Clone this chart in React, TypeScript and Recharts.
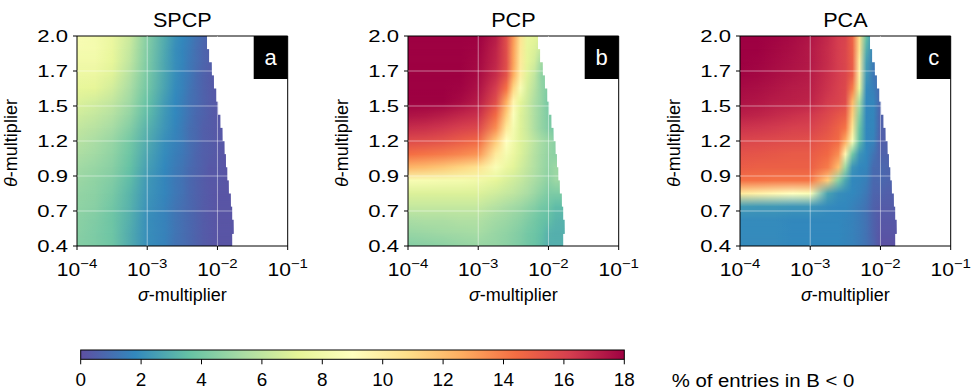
import React from 'react';
import { ComposedChart, XAxis, YAxis, ReferenceArea, ReferenceLine } from 'recharts';

const FONT = '"Liberation Sans", Arial, Helvetica, sans-serif';

// sigma-multiplier sample columns (log-spaced)
const SIGMA_COLS = [1e-4, 1.778e-4, 3.162e-4, 5.623e-4, 1e-3, 1.778e-3, 2.512e-3, 3.162e-3, 3.981e-3, 5.012e-3, 6.31e-3, 7.943e-3, 1e-2, 1.259e-2, 1.585e-2];
// theta-multiplier sample rows, top to bottom
const THETA_ROWS = [2.0, 1.9, 1.8, 1.7, 1.6, 1.5, 1.4, 1.3, 1.2, 1.1, 1.0, 0.9, 0.8, 0.7, 0.6, 0.5, 0.4];
// largest sigma evaluated inside each band between consecutive rows
const SIGMA_END = [0.0071, 0.0076, 0.0083, 0.0089, 0.0096, 0.0102, 0.011, 0.0118, 0.0126, 0.0132, 0.0138, 0.0145, 0.0155, 0.0162, 0.017, 0.0162];

// % of entries in B < 0, one row per theta value
const SPCP = [
  [8.5, 8.2, 7.6, 6.4, 4.4, 2.9, 2.1, 1.8, 1.5, 1.1, 0.8, 0.6],
  [8.3, 8.2, 7.5, 6.2, 4.3, 2.8, 2.0, 1.7, 1.4, 1.0, 0.7, 0.5],
  [8.0, 8.0, 7.3, 6.0, 4.2, 2.7, 2.0, 1.7, 1.3, 1.0, 0.7, 0.5, 0.4],
  [7.7, 7.6, 7.0, 5.7, 4.1, 2.7, 2.0, 1.6, 1.3, 0.9, 0.6, 0.4, 0.3],
  [7.3, 7.2, 6.6, 5.4, 3.9, 2.6, 1.9, 1.6, 1.2, 0.9, 0.6, 0.4, 0.3],
  [6.9, 6.6, 6.1, 5.1, 3.6, 2.4, 1.8, 1.5, 1.1, 0.9, 0.6, 0.4, 0.3, 0.3],
  [6.5, 6.2, 5.7, 4.8, 3.4, 2.3, 1.8, 1.5, 1.1, 0.8, 0.6, 0.4, 0.3, 0.3],
  [6.1, 5.8, 5.3, 4.4, 3.1, 2.2, 1.7, 1.4, 1.0, 0.8, 0.5, 0.4, 0.3, 0.3],
  [5.8, 5.4, 4.9, 4.0, 2.9, 2.0, 1.6, 1.4, 1.0, 0.8, 0.5, 0.4, 0.3, 0.3],
  [5.5, 5.2, 4.7, 3.8, 2.7, 1.9, 1.5, 1.3, 1.0, 0.7, 0.5, 0.4, 0.3, 0.2, 0.2],
  [5.2, 4.9, 4.5, 3.6, 2.5, 1.8, 1.4, 1.2, 0.9, 0.7, 0.5, 0.3, 0.3, 0.2, 0.2],
  [5.0, 4.7, 4.3, 3.4, 2.3, 1.7, 1.3, 1.1, 0.8, 0.6, 0.4, 0.3, 0.3, 0.2, 0.2],
  [4.8, 4.6, 4.1, 3.2, 2.2, 1.7, 1.3, 1.1, 0.8, 0.6, 0.4, 0.3, 0.2, 0.2, 0.2],
  [4.7, 4.5, 3.9, 3.1, 2.1, 1.6, 1.2, 1.0, 0.8, 0.6, 0.4, 0.3, 0.2, 0.2, 0.2],
  [4.6, 4.3, 3.8, 3.0, 2.0, 1.6, 1.2, 1.0, 0.8, 0.6, 0.4, 0.3, 0.2, 0.2, 0.2],
  [4.5, 4.2, 3.8, 2.9, 2.0, 1.6, 1.2, 1.0, 0.8, 0.6, 0.4, 0.3, 0.2, 0.2, 0.2],
  [4.4, 4.2, 3.8, 2.9, 2.0, 1.6, 1.1, 1.0, 0.8, 0.6, 0.4, 0.3, 0.2, 0.2, 0.2],
];

const PCP = [
  [18.6, 18.6, 18.6, 18.4, 18.0, 17.2, 15.6, 13.2, 10.6, 7.5, 7.2, 7.0],
  [18.6, 18.6, 18.5, 18.3, 17.9, 17.0, 15.6, 13.0, 10.4, 7.3, 6.9, 6.2],
  [18.5, 18.5, 18.5, 18.2, 17.8, 16.9, 15.6, 12.9, 10.2, 7.2, 6.6, 5.2, 5.0],
  [18.5, 18.5, 18.4, 18.1, 17.7, 16.7, 15.4, 12.6, 10.0, 7.0, 6.1, 4.7, 4.4],
  [18.4, 18.4, 18.2, 17.9, 17.5, 16.2, 14.3, 11.2, 8.5, 6.7, 5.8, 4.8, 4.2],
  [18.3, 18.2, 18.0, 17.7, 17.2, 15.6, 12.6, 9.6, 7.2, 6.4, 5.5, 4.8, 4.0, 4.0],
  [17.5, 17.4, 17.2, 16.9, 16.6, 14.5, 11.5, 8.8, 7.0, 6.3, 5.5, 4.8, 4.2, 4.0],
  [16.7, 16.6, 16.4, 16.1, 15.8, 13.5, 10.3, 8.3, 7.0, 6.3, 5.5, 4.8, 4.3, 4.0],
  [15.7, 15.6, 15.4, 15.0, 14.6, 11.6, 9.0, 8.0, 7.0, 6.5, 5.9, 5.3, 4.9, 4.6],
  [14.4, 14.2, 14.0, 13.7, 13.3, 10.2, 8.3, 7.6, 6.9, 6.3, 5.7, 5.2, 4.8, 4.6, 4.5],
  [12.3, 12.1, 11.7, 11.2, 10.6, 8.6, 7.6, 7.1, 6.6, 6.1, 5.6, 5.1, 4.7, 5.0, 5.0],
  [8.5, 8.4, 8.3, 8.2, 8.0, 7.3, 6.8, 6.5, 6.2, 5.8, 5.4, 5.0, 4.6, 5.0, 5.0],
  [6.9, 6.9, 6.9, 6.9, 6.9, 6.5, 6.2, 6.0, 5.7, 5.4, 5.0, 4.6, 4.2, 4.2, 4.2],
  [6.2, 6.2, 6.2, 6.2, 6.2, 5.7, 5.4, 5.2, 5.0, 4.7, 4.4, 4.0, 3.8, 3.4, 3.4],
  [5.4, 5.5, 5.5, 5.6, 5.6, 5.2, 5.0, 4.8, 4.6, 4.3, 4.0, 3.7, 3.5, 3.2, 3.1],
  [4.9, 5.0, 5.1, 5.2, 5.3, 4.9, 4.7, 4.5, 4.3, 4.0, 3.8, 3.5, 3.1, 3.0, 3.0],
  [4.4, 4.5, 4.6, 4.8, 4.9, 4.8, 4.6, 4.4, 4.2, 3.9, 3.7, 3.4, 3.0, 3.0, 3.0],
];

const PCA = [
  [18.2, 18.1, 17.9, 17.7, 17.4, 16.8, 16.2, 16.0, 14.8, 10.8, 3.6, 1.8],
  [18.1, 18.0, 17.8, 17.6, 17.3, 16.7, 16.2, 15.9, 14.9, 10.6, 3.0, 1.6],
  [18.0, 17.9, 17.7, 17.5, 17.3, 16.7, 16.2, 15.9, 15.0, 10.0, 2.5, 1.4, 1.0],
  [17.9, 17.8, 17.6, 17.4, 17.2, 16.6, 16.2, 15.9, 15.0, 9.8, 2.3, 1.3, 0.9],
  [17.7, 17.6, 17.4, 17.2, 17.1, 16.5, 16.1, 15.8, 14.0, 7.5, 1.9, 1.5, 0.8],
  [17.5, 17.4, 17.2, 17.1, 17.0, 16.3, 16.0, 15.7, 12.3, 5.4, 1.8, 1.7, 0.7, 0.5],
  [17.1, 17.0, 16.8, 16.6, 16.4, 15.8, 15.3, 15.0, 11.5, 4.5, 1.8, 1.7, 0.6, 0.5],
  [16.5, 16.4, 16.3, 16.1, 16.0, 15.4, 14.8, 14.2, 10.5, 3.8, 1.8, 1.7, 0.6, 0.5],
  [15.9, 15.8, 15.7, 15.6, 15.5, 15.0, 14.5, 12.7, 8.5, 3.5, 1.8, 1.6, 0.5, 0.5],
  [15.4, 15.3, 15.2, 15.1, 15.1, 14.6, 13.5, 9.5, 4.0, 2.2, 1.8, 1.2, 0.6, 0.6, 0.6],
  [15.0, 14.9, 14.9, 14.9, 14.9, 14.0, 12.0, 5.0, 2.2, 1.8, 1.7, 0.9, 0.8, 0.7, 0.6],
  [14.3, 14.3, 14.2, 14.2, 14.2, 11.5, 4.5, 2.8, 1.8, 1.7, 1.5, 0.8, 0.8, 0.7, 0.6],
  [10.2, 9.8, 9.4, 9.0, 8.6, 2.6, 2.0, 1.9, 1.8, 1.6, 1.3, 0.7, 0.6, 0.5, 0.5],
  [2.4, 2.3, 2.3, 2.2, 2.2, 1.9, 1.8, 1.8, 1.6, 1.4, 1.1, 0.6, 0.4, 0.4, 0.4],
  [1.9, 1.9, 1.9, 1.8, 1.8, 1.8, 1.8, 1.7, 1.6, 1.4, 1.1, 0.6, 0.3, 0.3, 0.3],
  [1.9, 1.9, 1.9, 1.8, 1.8, 1.8, 1.8, 1.7, 1.6, 1.4, 1.1, 0.6, 0.2, 0.2, 0.2],
  [1.9, 1.9, 1.9, 1.8, 1.8, 1.8, 1.8, 1.7, 1.6, 1.4, 1.1, 0.7, 0.1, 0.1, 0.1],
];

const X_TICKS = [1e-4, 1e-3, 1e-2, 1e-1];
const Y_TICKS = [0.4, 0.6667, 0.9333, 1.2, 1.4667, 1.7333, 2.0];
const CBAR_TICKS = [0, 2, 4, 6, 8, 10, 12, 14, 16, 18];
const CBAR_MAX = 18;

// Spectral colormap anchors (reversed when applied)
const SPECTRAL = [
  [0.61960784, 0.00392157, 0.25882353],
  [0.83529412, 0.24313725, 0.30980392],
  [0.95686275, 0.42745098, 0.2627451],
  [0.99215686, 0.68235294, 0.38039216],
  [0.99607843, 0.87843137, 0.54509804],
  [1.0, 1.0, 0.74901961],
  [0.90196078, 0.96078431, 0.59607843],
  [0.67058824, 0.86666667, 0.64313725],
  [0.4, 0.76078431, 0.64705882],
  [0.19607843, 0.53333333, 0.74117647],
  [0.36862745, 0.30980392, 0.63529412],
];

function spectralR(v: number): string {
  const t = Math.max(0, Math.min(1, v / CBAR_MAX));
  const s = (1 - t) * 10;
  const i = Math.min(9, Math.floor(s));
  const f = s - i;
  const a = SPECTRAL[i];
  const b = SPECTRAL[i + 1];
  const c = a.map((ch, k) => Math.round(255 * (ch + (b[k] - ch) * f)));
  return `rgb(${c[0]},${c[1]},${c[2]})`;
}

const LOG_MIN = Math.log10(SIGMA_COLS[0]);
const LOG_COLS = SIGMA_COLS.map((s) => Math.log10(s));
const LOG_LAST = LOG_COLS[LOG_COLS.length - 1];

function rowStops(row: (number | null)[]) {
  const out: React.ReactElement[] = [];
  row.forEach((v, i) => {
    if (v == null) return;
    out.push(
      <stop key={i} offset={(LOG_COLS[i] - LOG_MIN) / (LOG_LAST - LOG_MIN)} stopColor={spectralR(v)} />
    );
  });
  return out;
}

// One horizontal band between two theta rows: upper row gradient underneath,
// lower row gradient on top faded in from top to bottom.
function makeBandShape(id: string, upper: number[], lower: number[], sigmaEnd: number, extend: number) {
  return (p: any) => {
    const { x, y, width, height } = p;
    const span = Math.log10(sigmaEnd) - LOG_MIN;
    const gx2 = x + (width * (LOG_LAST - LOG_MIN)) / span;
    const h = height + extend;
    return (
      <g>
        <defs>
          <linearGradient id={`${id}u`} gradientUnits="userSpaceOnUse" x1={x} y1={0} x2={gx2} y2={0}>
            {rowStops(upper)}
          </linearGradient>
          <linearGradient id={`${id}l`} gradientUnits="userSpaceOnUse" x1={x} y1={0} x2={gx2} y2={0}>
            {rowStops(lower)}
          </linearGradient>
          <linearGradient id={`${id}f`} gradientUnits="userSpaceOnUse" x1={0} y1={y} x2={0} y2={y + height}>
            <stop offset={0} stopColor="#fff" stopOpacity={0} />
            <stop offset={1} stopColor="#fff" stopOpacity={1} />
          </linearGradient>
          <mask id={`${id}m`} maskUnits="userSpaceOnUse" x={x - 1} y={y - 1} width={width + 2} height={h + 2}>
            <rect x={x} y={y} width={width} height={h} fill={`url(#${id}f)`} />
          </mask>
        </defs>
        <rect x={x} y={y} width={width} height={h} fill={`url(#${id}u)`} />
        <rect x={x} y={y} width={width} height={h} fill={`url(#${id}l)`} mask={`url(#${id}m)`} />
      </g>
    );
  };
}

// text drawn with a horizontal stretch around its anchor point
function SText({ x, y, sx = 1, size, anchor = 'middle', fill = '#000', dy, children }: any) {
  return (
    <text
      transform={`translate(${x},${y}) scale(${sx},1)`}
      x={0}
      y={0}
      dy={dy}
      textAnchor={anchor}
      fontSize={size}
      fill={fill}
      fontFamily={FONT}
    >
      {children}
    </text>
  );
}

const XTick = (p: any) => {
  const exp = Math.round(Math.log10(p.payload.value));
  return (
    <SText x={p.x} y={p.y + 24} sx={1.2} size={17.5}>
      <tspan>10</tspan>
      <tspan dy={-8.5} fontSize={12.5}>{'\u2212' + Math.abs(exp)}</tspan>
    </SText>
  );
};

const YTick = (p: any) => (
  <SText x={p.x} y={p.y} dy="0.36em" sx={1.3} size={17} anchor="end">
    {Number(p.payload.value).toFixed(1)}
  </SText>
);

const PLOT_W = 210.7;
const PLOT_H = 210;
const PLOT_TOP = 36;
const Y_AXIS_W = 75;
const CHART_W = 310;
const CHART_H = 320;

type PanelProps = { id: string; title: string; tag: string; plotLeft: number; values: number[][] };

function Panel({ id, title, tag, plotLeft, values }: PanelProps) {
  const bands = [];
  for (let k = 0; k < THETA_ROWS.length - 1; k++) {
    const last = k === THETA_ROWS.length - 2;
    bands.push(
      <ReferenceArea
        key={`band-${k}`}
        x1={SIGMA_COLS[0]}
        x2={SIGMA_END[k]}
        y1={THETA_ROWS[k + 1]}
        y2={THETA_ROWS[k]}
        ifOverflow="visible"
        shape={makeBandShape(`${id}b${k}`, values[k], values[k + 1], SIGMA_END[k], last ? 0 : 1)}
      />
    );
  }
  const cx = Y_AXIS_W + PLOT_W / 2;
  const tagW = 34;
  const tagH = 43;
  const yLabX = Y_AXIS_W - 60.5;
  const yLabY = PLOT_TOP + PLOT_H / 2 + 2;
  return (
    <div style={{ position: 'absolute', left: plotLeft - Y_AXIS_W, top: 0 }}>
      <ComposedChart
        width={CHART_W}
        height={CHART_H}
        margin={{ top: PLOT_TOP, right: CHART_W - Y_AXIS_W - PLOT_W, bottom: CHART_H - PLOT_TOP - PLOT_H - 60, left: 0 }}
      >
        <XAxis
          type="number"
          dataKey="x"
          scale="log"
          domain={[1e-4, 1e-1]}
          ticks={X_TICKS}
          interval={0}
          allowDataOverflow
          height={60}
          axisLine={false}
          tickSize={4}
          tickLine={{ stroke: '#000', strokeWidth: 1 }}
          tick={XTick}
        />
        <YAxis
          type="number"
          dataKey="y"
          domain={[0.4, 2.0]}
          ticks={Y_TICKS}
          interval={0}
          allowDataOverflow
          width={Y_AXIS_W}
          axisLine={false}
          tickSize={4}
          tickMargin={5}
          tickLine={{ stroke: '#000', strokeWidth: 1 }}
          tick={YTick}
        />
        {bands}
        {X_TICKS.slice(1, 3).map((v) => (
          <ReferenceLine key={`gx${v}`} x={v} stroke="#fff" strokeOpacity={0.45} strokeWidth={1} />
        ))}
        {Y_TICKS.slice(1, 6).map((v) => (
          <ReferenceLine
            key={`gy${v}`}
            segment={[{ x: 1e-4, y: v }, { x: 0.03, y: v }]}
            stroke="#fff"
            strokeOpacity={0.45}
            strokeWidth={1}
          />
        ))}
        <ReferenceArea x1={1e-4} x2={1e-1} y1={0.4} y2={2.0} fill="none" fillOpacity={0} stroke="#000" strokeWidth={1} />
        <rect x={Y_AXIS_W + PLOT_W - tagW} y={PLOT_TOP} width={tagW} height={tagH} fill="#000" />
        <text
          x={Y_AXIS_W + PLOT_W - tagW / 2}
          y={PLOT_TOP + tagH / 2}
          dy="0.36em"
          textAnchor="middle"
          fontSize={22}
          fill="#fff"
          fontFamily={FONT}
        >
          {tag}
        </text>
        <SText x={cx} y={27.3} sx={1.08} size={20}>
          {title}
        </SText>
        <text x={cx} y={301} textAnchor="middle" fontSize={18} fill="#000" fontFamily={FONT}>
          <tspan fontStyle="italic">σ</tspan>-multiplier
        </text>
        <text
          x={yLabX}
          y={yLabY}
          transform={`rotate(-90, ${yLabX}, ${yLabY})`}
          textAnchor="middle"
          fontSize={18}
          fill="#000"
          fontFamily={FONT}
        >
          <tspan fontStyle="italic">θ</tspan>-multiplier
        </text>
      </ComposedChart>
    </div>
  );
}

const CbarShape = (p: any) => {
  const { x, y, width, height } = p;
  return (
    <g>
      <defs>
        <linearGradient id="cbar-grad" x1={0} y1={0} x2={1} y2={0}>
          {SPECTRAL.map((_, i) => (
            <stop key={i} offset={i / 10} stopColor={spectralR((i / 10) * CBAR_MAX)} />
          ))}
        </linearGradient>
      </defs>
      <rect x={x} y={y} width={width} height={height} fill="url(#cbar-grad)" stroke="#000" strokeWidth={1} />
    </g>
  );
};

const CbarTick = (p: any) => (
  <SText x={p.x} y={p.y + 20} sx={1.05} size={18}>
    {p.payload.value}
  </SText>
);

function ColorBar() {
  const left = 80.7;
  const right = 624.3;
  return (
    <div style={{ position: 'absolute', left: 0, top: 330 }}>
      <ComposedChart width={979} height={62} margin={{ top: 20, right: 979 - right, bottom: 0, left }}>
        <XAxis
          type="number"
          dataKey="v"
          domain={[0, CBAR_MAX]}
          ticks={CBAR_TICKS}
          interval={0}
          allowDataOverflow
          height={32.7}
          axisLine={false}
          tickSize={5}
          tickLine={{ stroke: '#000', strokeWidth: 1 }}
          tick={CbarTick}
        />
        <YAxis type="number" dataKey="w" domain={[0, 1]} hide allowDataOverflow />
        <ReferenceArea x1={0} x2={CBAR_MAX} y1={0} y2={1} shape={CbarShape} />
        <SText x={671.7} y={56.5} sx={1.1} size={18.5} anchor="start">
          % of entries in B &lt; 0
        </SText>
      </ComposedChart>
    </div>
  );
}

export default function App() {
  return (
    <div style={{ position: 'absolute', left: 0, top: 0, width: 979, height: 392, background: '#fff', fontFamily: FONT }}>
      <Panel id="a" title="SPCP" tag="a" plotLeft={77.3} values={SPCP} />
      <Panel id="b" title="PCP" tag="b" plotLeft={408.3} values={PCP} />
      <Panel id="c" title="PCA" tag="c" plotLeft={739.7} values={PCA} />
      <ColorBar />
    </div>
  );
}
